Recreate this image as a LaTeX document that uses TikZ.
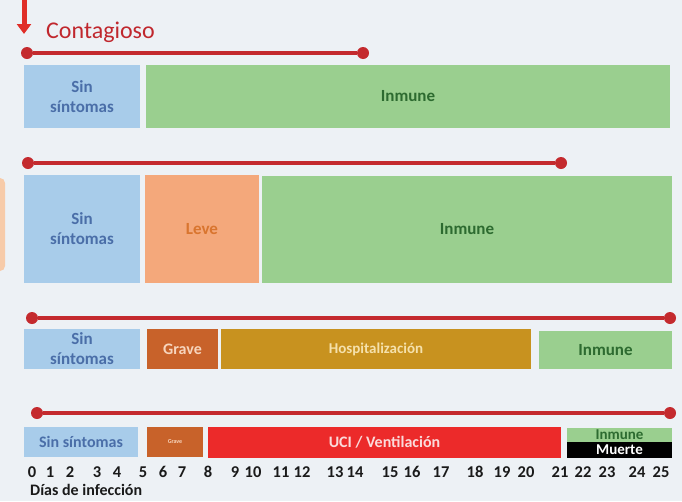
\documentclass[tikz,border=0pt]{standalone}
\usepackage{fontspec}
\setmainfont{Carlito}
\usetikzlibrary{arrows.meta}
\definecolor{bgc}{HTML}{EDF1F5}
\definecolor{sinfill}{HTML}{A8CCEA}
\definecolor{sintext}{HTML}{4A6EA8}
\definecolor{grnfill}{HTML}{9ACF8F}
\definecolor{grntext}{HTML}{2D6B30}
\definecolor{levefill}{HTML}{F4A87B}
\definecolor{levetext}{HTML}{D9752F}
\definecolor{gravefill}{HTML}{C8622A}
\definecolor{gravetext}{HTML}{F7D5BD}
\definecolor{hospfill}{HTML}{C8921F}
\definecolor{hosptext}{HTML}{F5E1AC}
\definecolor{ucifill}{HTML}{EC2A2A}
\definecolor{ucitext}{HTML}{FBDADA}
\definecolor{linered}{HTML}{C42A2E}
\definecolor{arrowred}{HTML}{E02E28}
\definecolor{contred}{HTML}{C0272D}
\definecolor{peach}{HTML}{F7CBA9}
\definecolor{numc}{HTML}{1A1A1A}
\newcommand\bx[8][]{\node[bx,fill=#7,minimum width={#5-#3},minimum height={#6-#4},anchor=north west,#1] (#2) at (#3,#4) {#8};}
\begin{document}
\begin{tikzpicture}[x=1pt,y=-1pt,
  bx/.style={rectangle,inner sep=0pt,outer sep=0pt,align=center,
    font=\fontsize{17}{20}\selectfont\bfseries},
  sin/.style={text=sintext},
  grn/.style={text=grntext},
  dot/.style={circle,fill=linered,minimum size=12pt,inner sep=0pt,outer sep=0pt},
  redline/.style={draw=linered,line width=4pt},
  num/.style={anchor=base,inner sep=0pt,text=numc,font=\fontsize{16.5}{19}\selectfont\bfseries}]
\fill[bgc] (0,0) rectangle (682,501);
\useasboundingbox (0,0) rectangle (682,501);
\fill[peach,rounded corners=5pt] (-10,178) rectangle (5,271);

% arrow and title
\coordinate (atop) at (24,0);
\coordinate (abot) at (24,34);
\draw[arrowred,line width=5pt,-{Triangle[width=14pt,length=10pt]}] (atop) -- (abot);
\node[anchor=base west,inner sep=0pt,text=contred,font=\fontsize{24}{28}\selectfont] (cont) at (46,38) {Contagioso};

% row 1
\node[dot] (r1a) at (27,53) {};
\node[dot] (r1b) at (363,53) {};
\draw[redline] (r1a) -- (r1b);
\bx[sin]{s1}{24}{65}{140}{128}{sinfill}{Sin\\síntomas}
\bx[grn]{i1}{146}{65}{670}{128}{grnfill}{Inmune}

% row 2
\node[dot] (r2a) at (28,163) {};
\node[dot] (r2b) at (561,163) {};
\draw[redline] (r2a) -- (r2b);
\bx[sin]{s2}{24}{175}{140}{283}{sinfill}{Sin\\síntomas}
\bx[text=levetext]{l2}{145}{175}{259}{283}{levefill}{Leve}
\bx[grn]{i2}{262}{176}{672}{283}{grnfill}{Inmune}

% row 3
\node[dot] (r3a) at (32,318) {};
\node[dot] (r3b) at (670,318) {};
\draw[redline] (r3a) -- (r3b);
\bx[sin]{s3}{24}{329}{140}{369}{sinfill}{Sin\\síntomas}
\bx[text=gravetext,font=\fontsize{16}{19}\selectfont\bfseries]{g3}{147}{329}{218}{369}{gravefill}{Grave}
\bx[text=hosptext,font=\fontsize{15}{18}\selectfont\bfseries]{h3}{221}{329}{531}{369}{hospfill}{Hospitalización}
\bx[grn]{i3}{539}{331}{672}{369}{grnfill}{Inmune}

% row 4
\node[dot] (r4a) at (37,413) {};
\node[dot] (r4b) at (670,413) {};
\draw[redline] (r4a) -- (r4b);
\bx[sin,font=\fontsize{16}{19}\selectfont\bfseries]{s4}{24}{427}{138}{457}{sinfill}{Sin síntomas}
\bx[text=gravetext,font=\fontsize{6}{7}\selectfont\bfseries]{g4}{147}{427}{203}{457}{gravefill}{Grave}
\bx[text=ucitext,font=\fontsize{16}{19}\selectfont\bfseries]{u4}{208}{427}{561}{458}{ucifill}{UCI / Ventilación}
\bx[grn,font=\fontsize{15}{15}\selectfont\bfseries]{i4}{567}{428}{672}{442}{grnfill}{Inmune}
\bx[text=white,font=\fontsize{15}{15}\selectfont\bfseries]{m4}{567}{442}{672}{458}{black}{Muerte}

% day numbers
\foreach \d/\x in {0/32,1/50,2/70,3/97,4/117,5/143,6/163,7/182,8/208,9/235,10/253,11/281,12/302,13/335,14/355,15/390,16/412,17/441,18/475,19/502,20/526,21/560,22/583,23/607,24/637,25/661}
  \node[num] (d\d) at (\x,477) {\d};
\node[anchor=base west,inner sep=0pt,text=numc,font=\fontsize{16}{19}\selectfont\bfseries] (dias) at (30,495) {Días de infección};
\end{tikzpicture}
\end{document}
